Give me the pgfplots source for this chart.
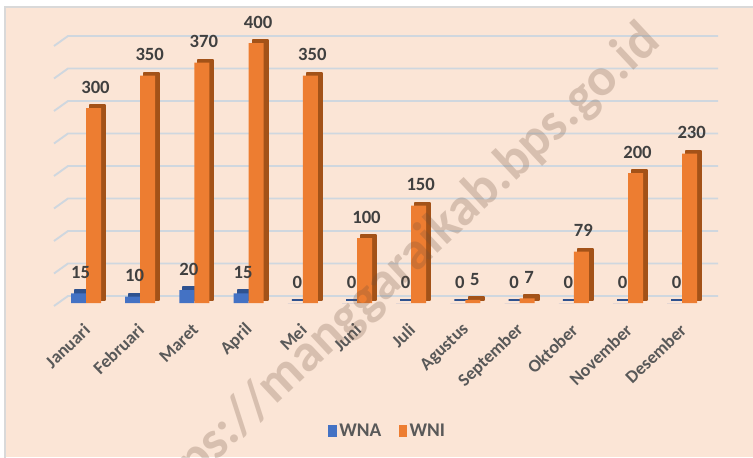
\documentclass[border=0pt]{standalone}
\usepackage{fontspec}
\setmainfont{Carlito}
\usepackage{pgfplots}
\usepackage{pgfplotstable}
\pgfplotsset{compat=1.18}
\definecolor{bgpeach}{RGB}{251,229,214}
\definecolor{wnablue}{RGB}{68,114,196}
\definecolor{wnaside}{RGB}{47,82,143}
\definecolor{wniorange}{RGB}{237,125,49}
\definecolor{wniside}{RGB}{163,82,24}
\definecolor{gridc}{RGB}{207,215,223}
\definecolor{labc}{RGB}{64,64,64}
\definecolor{tickc}{RGB}{89,89,89}
\definecolor{borderc}{RGB}{217,217,217}
\definecolor{wmark}{RGB}{110,80,60}

\pgfplotstableread{
x wna wni
0 15 300
1 10 350
2 20 370
3 15 400
4 0 350
5 0 100
6 0 150
7 0 5
8 0 7
9 0 79
10 0 200
11 0 230
}\datatable

\begin{document}
\begin{tikzpicture}
\begin{scope}[x=0.75pt,y=0.75pt]
\useasboundingbox (0,0) rectangle (753,457);
\fill[white] (0,0) rectangle (753,457);
\fill[bgpeach] (5,0) rectangle (753,450);
\draw[borderc, line width=1.5pt] (5,-3)--(5,450)--(756,450);
\foreach \k in {0,...,8}{
  \pgfmathsetmacro{\yy}{161+32.5*\k}
  \draw[gridc, line width=1.4pt] (54,\yy-10)--(68,\yy)--(718,\yy);
}
\end{scope}
\begin{axis}[
  at={(44.175pt,115.5pt)}, anchor=south west,
  scale only axis, width=487.8pt, height=195pt,
  xmin=-0.5, xmax=11.5, ymin=0, ymax=400,
  clip=false,
  axis line style={draw=none},
  ytick=\empty,
  xtick={0,...,11},
  xticklabels={Januari,Februari,Maret,April,Mei,Juni,Juli,Agustus,September,Oktober,November,Desember},
  major tick length=0pt,
  xticklabel style={font=\bfseries\fontsize{13.5}{15}\selectfont, text=tickc, xshift=0.8pt, yshift=-18pt, rotate=44, anchor=east, inner sep=0pt},
  /pgf/number format/assume math mode=true,
  legend image code/.code={\fill[#1] (0pt,-4.2pt) rectangle (6.2pt,4.2pt);},
  legend style={at={(0.506,-0.492)}, anchor=center, draw=none, fill=none,
    legend columns=2, font=\bfseries\fontsize{14.5}{16}\selectfont, text=tickc,
    /tikz/every even column/.append style={column sep=11pt},
    /tikz/every odd column/.append style={column sep=0pt}},
  nodes near coords style={font=\bfseries\fontsize{14}{16}\selectfont, text=labc, anchor=base, inner sep=0pt, yshift=11pt, xshift=1.5pt},
]
% WNA back (side/top)
\addplot[ybar, bar width=11.25pt, bar shift=-5.625pt, fill=wnaside, draw=wnaside, line width=1.5pt, line join=bevel, xshift=3pt, yshift=2.25pt, forget plot] table[x=x,y=wna]{\datatable};
% WNA front
\addplot[ybar, bar width=11.25pt, bar shift=-5.625pt, fill=wnablue, draw=none, nodes near coords, every node near coord/.append style={xshift=-5.625pt}, forget plot] table[x=x,y=wna]{\datatable};
% WNI back
\addplot[ybar, bar width=11.25pt, bar shift=5.625pt, fill=wniside, draw=wniside, line width=1.5pt, line join=bevel, xshift=3pt, yshift=2.25pt, forget plot] table[x=x,y=wni]{\datatable};
% WNI front
\addplot[ybar, bar width=11.25pt, bar shift=5.625pt, fill=wniorange, draw=none, nodes near coords, every node near coord/.append style={xshift=5.625pt}, forget plot] table[x=x,y=wni]{\datatable};
\addlegendimage{fill=wnablue, draw=none}
\addlegendentry{WNA}
\addlegendimage{fill=wniorange, draw=none}
\addlegendentry{WNI}
\end{axis}
\begin{scope}[x=0.75pt,y=0.75pt]
  \clip (5,0) rectangle (753,450);
  \node[rotate=43.1, anchor=base east, font=\bfseries\fontsize{40}{47}\selectfont, text=wmark, opacity=0.25, inner sep=0pt] at (662,413) {https://manggaraikab.bps.go.id};
\end{scope}
\end{tikzpicture}
\end{document}
